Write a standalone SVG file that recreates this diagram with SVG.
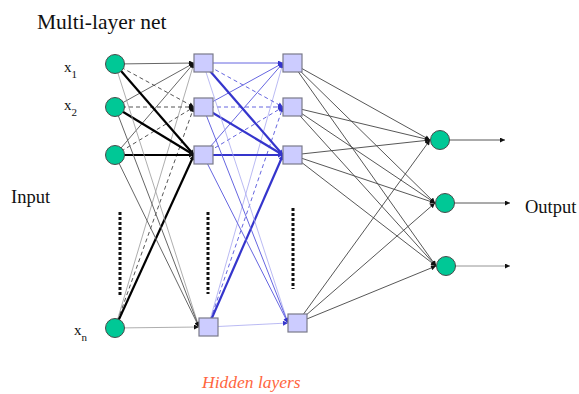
<svg xmlns="http://www.w3.org/2000/svg" width="579" height="394" viewBox="0 0 579 394">
  <style>
    text { font-family: 'Liberation Serif', 'DejaVu Serif', serif; }
    .lbl { fill: #111; }
    .hid { fill: #ff6640; font-style: italic; }
    .unit { fill: #00c896; stroke: #4a4a4a; stroke-width: 1; }
    .cell { fill: #ccccff; stroke: #7a7a8a; stroke-width: 1.2; }
    .k-mid { stroke: #666; stroke-width: 1; fill: none; marker-end: url(#ah-dark); }
    .k-dash { stroke: #555; stroke-width: 1; stroke-dasharray: 4 3; fill: none; marker-end: url(#ah-dark); }
    .k-bold { stroke: #000; stroke-width: 2.2; fill: none; marker-end: url(#ah-dark); }
    .k-thin { stroke: #999; stroke-width: 0.8; fill: none; marker-end: url(#ah-dark); }
    .b-mid { stroke: #6666e0; stroke-width: 1; fill: none; marker-end: url(#ah-blue); }
    .b-dash { stroke: #6666e0; stroke-width: 1; stroke-dasharray: 4 3; fill: none; marker-end: url(#ah-blue); }
    .b-bold { stroke: #3535cc; stroke-width: 2.2; fill: none; marker-end: url(#ah-blue); }
    .b-thin { stroke: #a8a8f0; stroke-width: 0.8; fill: none; marker-end: url(#ah-blue); }
    .o-line { stroke: #444; stroke-width: 0.9; fill: none; marker-end: url(#ah-dark); }
    .dots { stroke: #111; stroke-width: 3; stroke-dasharray: 3 2; }
  </style>
  <defs>
    <marker id="ah-dark" viewBox="0 0 10 10" refX="10" refY="5" markerWidth="6" markerHeight="5" markerUnits="userSpaceOnUse" orient="auto">
      <path d="M0,0 L10,5 L0,10 z" fill="#111"/>
    </marker>
    <marker id="ah-blue" viewBox="0 0 10 10" refX="10" refY="5" markerWidth="6" markerHeight="5" markerUnits="userSpaceOnUse" orient="auto">
      <path d="M0,0 L10,5 L0,10 z" fill="#3535cc"/>
    </marker>
  </defs>

  <g id="connectors">
    <!-- input layer to first hidden layer -->
    <g id="in-h1">
      <line class="k-mid" x1="115" y1="64" x2="194" y2="63"/>
      <line class="k-mid" x1="115" y1="107" x2="194" y2="63"/>
      <line class="k-mid" x1="115" y1="155" x2="194" y2="63"/>
      <line class="k-thin" x1="115" y1="328" x2="194" y2="63"/>
      <line class="k-dash" x1="115" y1="64" x2="194" y2="107"/>
      <line class="k-dash" x1="115" y1="107" x2="194" y2="107"/>
      <line class="k-dash" x1="115" y1="155" x2="194" y2="107"/>
      <line class="k-dash" x1="115" y1="328" x2="194" y2="107"/>
      <line class="k-bold" x1="115" y1="64" x2="194" y2="155"/>
      <line class="k-bold" x1="115" y1="107" x2="194" y2="155"/>
      <line class="k-bold" x1="115" y1="155" x2="194" y2="155"/>
      <line class="k-bold" x1="115" y1="328" x2="194" y2="155"/>
      <line class="k-thin" x1="115" y1="64" x2="199" y2="327"/>
      <line class="k-mid" x1="115" y1="107" x2="199" y2="327"/>
      <line class="k-mid" x1="115" y1="155" x2="199" y2="327"/>
      <line class="k-thin" x1="115" y1="328" x2="199" y2="327"/>
    </g>
    <!-- first hidden layer to second hidden layer -->
    <g id="h1-h2">
      <line class="b-mid" x1="203" y1="63" x2="283" y2="63"/>
      <line class="b-mid" x1="203" y1="107" x2="283" y2="63"/>
      <line class="b-mid" x1="203" y1="155" x2="283" y2="63"/>
      <line class="b-thin" x1="208" y1="327" x2="283" y2="63"/>
      <line class="b-dash" x1="203" y1="63" x2="283" y2="107"/>
      <line class="b-dash" x1="203" y1="107" x2="283" y2="107"/>
      <line class="b-dash" x1="203" y1="155" x2="283" y2="107"/>
      <line class="b-dash" x1="208" y1="327" x2="283" y2="107"/>
      <line class="b-bold" x1="203" y1="63" x2="283" y2="155"/>
      <line class="b-bold" x1="203" y1="107" x2="283" y2="155"/>
      <line class="b-bold" x1="203" y1="155" x2="283" y2="155"/>
      <line class="b-bold" x1="208" y1="327" x2="283" y2="155"/>
      <line class="b-thin" x1="203" y1="63" x2="288" y2="323"/>
      <line class="b-mid" x1="203" y1="107" x2="288" y2="323"/>
      <line class="b-mid" x1="203" y1="155" x2="288" y2="323"/>
      <line class="b-thin" x1="208" y1="327" x2="288" y2="323"/>
    </g>
    <!-- second hidden layer to output layer -->
    <g id="h2-out">
      <line class="o-line" x1="292" y1="63" x2="430" y2="140"/>
      <line class="o-line" x1="292" y1="107" x2="430" y2="140"/>
      <line class="o-line" x1="292" y1="155" x2="430" y2="140"/>
      <line class="o-line" x1="297" y1="323" x2="430" y2="140"/>
      <line class="o-line" x1="292" y1="63" x2="435" y2="203"/>
      <line class="o-line" x1="292" y1="107" x2="435" y2="203"/>
      <line class="o-line" x1="292" y1="155" x2="435" y2="203"/>
      <line class="o-line" x1="297" y1="323" x2="435" y2="203"/>
      <line class="o-line" x1="292" y1="63" x2="436" y2="266"/>
      <line class="o-line" x1="292" y1="107" x2="436" y2="266"/>
      <line class="o-line" x1="292" y1="155" x2="436" y2="266"/>
      <line class="o-line" x1="297" y1="323" x2="436" y2="266"/>
    </g>
    <!-- output arrows -->
    <g id="out-arrows">
      <line class="o-line" x1="449" y1="140" x2="505" y2="140"/>
      <line class="o-line" x1="454" y1="203" x2="510" y2="203"/>
      <line class="o-line" x1="455" y1="266" x2="510" y2="266" style="stroke:#888"/>
    </g>
  </g>

  <!-- ellipsis columns -->
  <g id="ellipses">
    <line class="dots" x1="120" y1="212" x2="120" y2="295"/>
    <line class="dots" x1="208" y1="212" x2="208" y2="294"/>
    <line class="dots" x1="293" y1="208" x2="293" y2="289"/>
  </g>

  <g id="in1"><circle class="unit" cx="115" cy="64" r="9.5"/></g>
  <g id="in2"><circle class="unit" cx="115" cy="107" r="9.5"/></g>
  <g id="in3"><circle class="unit" cx="115" cy="155" r="9.5"/></g>
  <g id="in4"><circle class="unit" cx="115" cy="328" r="9.5"/></g>

  <g id="h1a"><rect class="cell" x="194" y="54" width="19" height="18"/></g>
  <g id="h1b"><rect class="cell" x="194" y="98" width="19" height="18"/></g>
  <g id="h1c"><rect class="cell" x="194" y="146" width="19" height="18"/></g>
  <g id="h1d"><rect class="cell" x="199" y="318" width="19" height="18"/></g>

  <g id="h2a"><rect class="cell" x="283" y="54" width="19" height="18"/></g>
  <g id="h2b"><rect class="cell" x="283" y="98" width="19" height="18"/></g>
  <g id="h2c"><rect class="cell" x="283" y="146" width="19" height="18"/></g>
  <g id="h2d"><rect class="cell" x="288" y="314" width="19" height="18"/></g>

  <g id="out1"><circle class="unit" cx="440" cy="140" r="9.5"/></g>
  <g id="out2"><circle class="unit" cx="445" cy="203" r="9.5"/></g>
  <g id="out3"><circle class="unit" cx="446" cy="266" r="9.5"/></g>

  <g id="labels">
    <text class="lbl" x="37" y="29" font-size="21.5">Multi-layer net</text>
    <text class="lbl" x="64" y="72" font-size="15">x<tspan font-size="11" dy="6">1</tspan></text>
    <text class="lbl" x="64" y="110" font-size="15">x<tspan font-size="11" dy="6">2</tspan></text>
    <text class="lbl" x="74" y="335" font-size="15">x<tspan font-size="11" dy="6">n</tspan></text>
    <text class="lbl" x="11" y="203" font-size="18.5">Input</text>
    <text class="lbl" x="525" y="213" font-size="18.5">Output</text>
    <text class="hid" x="202" y="388" font-size="17.5">Hidden layers</text>
  </g>
</svg>
